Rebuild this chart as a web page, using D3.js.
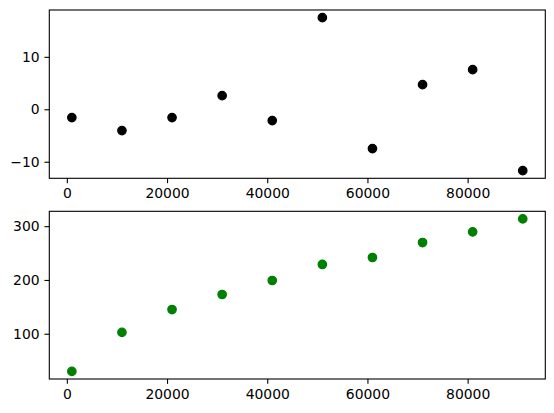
<!DOCTYPE html>
<html>
<head>
<meta charset="utf-8">
<script src="https://cdn.jsdelivr.net/npm/d3@7"></script>
<style>
  html, body { margin: 0; padding: 0; background: #fff; }
  svg { display: block; }
  .tick text { font-family: "DejaVu Sans", sans-serif; font-size: 13.9px; fill: #000; }
</style>
</head>
<body>
<svg id="chart" width="554" height="413"></svg>
<script>
// Data
const xValues = [1000, 11000, 21000, 31000, 41000, 51000, 61000, 71000, 81000, 91000];
const topValues = [-1.58, -4.06, -1.58, 2.6, -2.15, 17.47, -7.49, 4.7, 7.56, -11.7];
const bottomValues = [30, 102.5, 145, 173, 199, 228.8, 241.8, 269.6, 289.3, 313.5];
const xTicks = [0, 20000, 40000, 60000, 80000];
const topTicks = [-10, 0, 10];
const bottomTicks = [100, 200, 300];

const svg = d3.select("#chart");
const left = 49.3, right = 545.3;
const panels = [
  { top: 10, bottom: 178.3, values: topValues, ticks: topTicks, color: "#000000" },
  { top: 211.3, bottom: 379, values: bottomValues, ticks: bottomTicks, color: "#008000" }
];

function padDomain(arr) {
  const [mn, mx] = d3.extent(arr);
  const p = (mx - mn) * 0.05;
  return [mn - p, mx + p];
}

const minusFmt = v => String(v).replace("-", "\u2212");

panels.forEach(pn => {
  const x = d3.scaleLinear().domain(padDomain(xValues)).range([left, right]);
  const y = d3.scaleLinear().domain(padDomain(pn.values)).range([pn.bottom, pn.top]);
  const g = svg.append("g");

  const xa = g.append("g").attr("transform", `translate(0,${pn.bottom})`)
    .call(d3.axisBottom(x).tickValues(xTicks).tickFormat(d => String(d)).tickSize(4.86).tickPadding(4.86));
  const ya = g.append("g").attr("transform", `translate(${left},0)`)
    .call(d3.axisLeft(y).tickValues(pn.ticks).tickFormat(minusFmt).tickSize(4.86).tickPadding(4.86));
  [xa, ya].forEach(a => {
    a.select(".domain").remove();
    a.selectAll(".tick line").attr("stroke", "#000").attr("stroke-width", 1.1);
  });

  g.append("rect")
    .attr("x", left).attr("y", pn.top)
    .attr("width", right - left).attr("height", pn.bottom - pn.top)
    .attr("fill", "none").attr("stroke", "#000").attr("stroke-width", 1.1);

  g.selectAll("circle").data(xValues).join("circle")
    .attr("cx", (d) => x(d))
    .attr("cy", (d, i) => y(pn.values[i]))
    .attr("r", 4.2)
    .attr("fill", pn.color)
    .attr("stroke", pn.color)
    .attr("stroke-width", 1.3);
});
</script>
</body>
</html>
